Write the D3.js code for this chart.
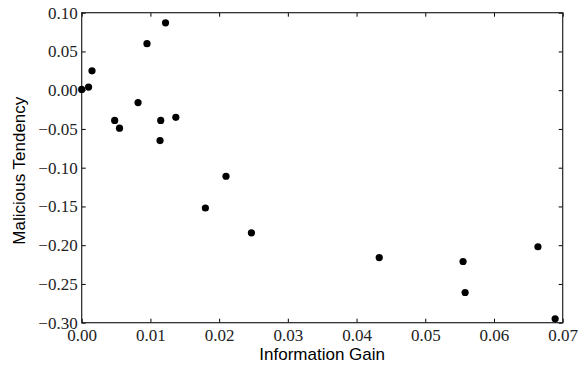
<!DOCTYPE html>
<html><head><meta charset="utf-8">
<script src="https://cdn.jsdelivr.net/npm/d3@7"></script>
<style>body{margin:0;background:#fff}</style>
</head><body>
<svg id="c" width="584" height="369"></svg>
<script>
const infoGain = [0.0000, 0.0010, 0.0015, 0.0095, 0.0122, 0.0082, 0.0048, 0.0055, 0.0115, 0.0137, 0.0114, 0.0180, 0.0210, 0.0247, 0.0433, 0.0555, 0.0558, 0.0664, 0.0689];
const tendency = [0.001, 0.004, 0.025, 0.060, 0.087, -0.016, -0.039, -0.049, -0.039, -0.035, -0.065, -0.152, -0.111, -0.184, -0.216, -0.221, -0.261, -0.202, -0.295];
const xTicks = [0, 0.01, 0.02, 0.03, 0.04, 0.05, 0.06, 0.07];
const yTicks = [0.10, 0.05, 0.00, -0.05, -0.10, -0.15, -0.20, -0.25, -0.30];
const xLabel = "Information Gain";
const yLabel = "Malicious Tendency";

const svg = d3.select("#c");
const L = 81.7, R = 562.7, T = 12.7, B = 322.7;
const x = d3.scaleLinear().domain([0, 0.07]).range([L, R]);
const y = d3.scaleLinear().domain([-0.30, 0.10]).range([B, T]);
const fmt = v => d3.format(".2f")(v).replace("-", "\u2212");
const serif = "'Liberation Serif', 'DejaVu Serif', serif";
const sans = "'Liberation Sans', Arial, sans-serif";

const gx = svg.append("g").attr("transform", `translate(0,${B})`)
  .call(d3.axisBottom(x).tickValues(xTicks).tickSize(-4).tickPadding(6).tickFormat(fmt));
const gxt = svg.append("g").attr("transform", `translate(0,${T})`)
  .call(d3.axisTop(x).tickValues(xTicks).tickSize(-4).tickFormat(""));
const gy = svg.append("g").attr("transform", `translate(${L},0)`)
  .call(d3.axisLeft(y).tickValues(yTicks).tickSize(-4).tickPadding(4).tickFormat(fmt));
const gyr = svg.append("g").attr("transform", `translate(${R},0)`)
  .call(d3.axisRight(y).tickValues(yTicks).tickSize(-4).tickFormat(""));
[gx, gxt, gy, gyr].forEach(g => {
  g.attr("font-family", null).attr("font-size", null);
  g.select(".domain").remove();
  g.selectAll(".tick line").attr("stroke", "#000").attr("stroke-width", 1);
  g.selectAll("text").style("font-family", serif).style("font-size", "17px").attr("fill", "#222");
});
gx.selectAll("text").attr("dy", "0.71em");

svg.append("rect").attr("x", L).attr("y", T).attr("width", R - L).attr("height", B - T)
  .attr("fill", "none").attr("stroke", "#222").attr("stroke-width", 1.2);

svg.append("g").selectAll("circle").data(infoGain).join("circle")
  .attr("cx", d => x(d)).attr("cy", (d, i) => y(tendency[i])).attr("r", 3.6).attr("fill", "#000");

svg.append("text").attr("x", (L + R) / 2).attr("y", 360).attr("text-anchor", "middle")
  .style("font-family", sans).style("font-size", "17px").text(xLabel);
svg.append("text").attr("transform", `translate(25,${(T + B) / 2 + 3}) rotate(-90)`).attr("text-anchor", "middle")
  .style("font-family", sans).style("font-size", "17px").text(yLabel);
</script>
</body></html>
